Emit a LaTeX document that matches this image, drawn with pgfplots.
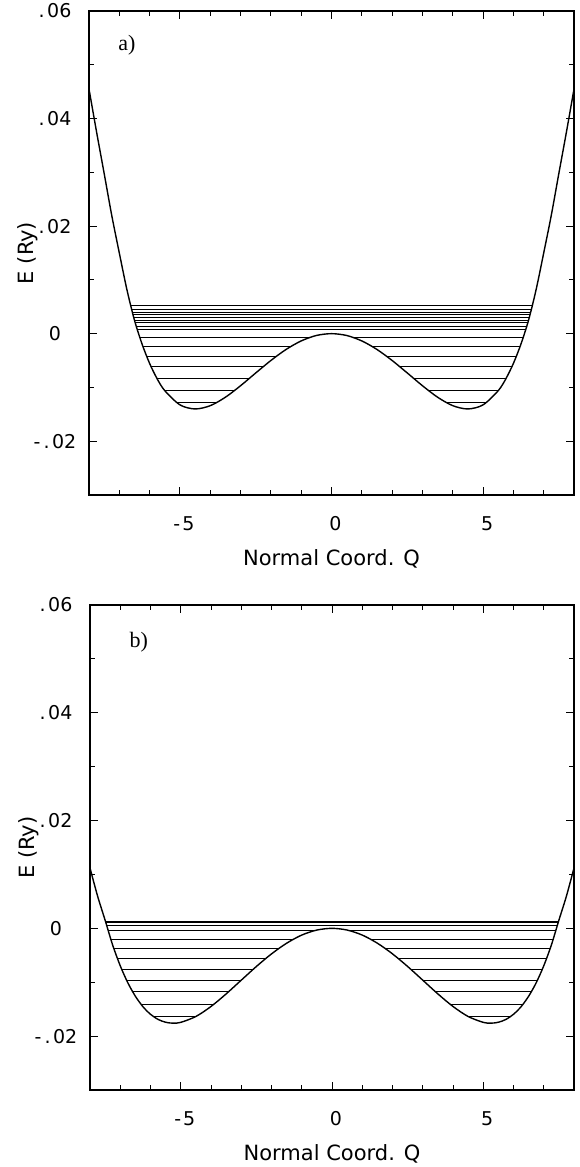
\documentclass[border=0pt]{standalone}
\usepackage{fontspec}
\setmainfont{DejaVu Sans}
\newfontfamily\serif{Liberation Serif}
\newfontfamily\tickf{DejaVu Sans}
\usepackage{pgfplots}
\pgfplotsset{compat=1.18}
\pgfplotsset{
 myax/.style={
  scale only axis, xmin=-8, xmax=8, ymin=-0.03, ymax=0.06,
  xtick={-5,0,5}, xticklabels={-\kern2pt5,0,5},
  minor xtick={-7,-6,-4,-3,-2,-1,1,2,3,4,6,7},
  ytick={-0.02,0,0.02,0.04,0.06},
  yticklabels={-\kern3pt.\kern2.5pt02,0,.\kern2.5pt02,.\kern2.5pt04,.\kern2.5pt06},
  minor ytick={-0.01,0.01,0.03,0.05},
  scaled y ticks=false, scaled x ticks=false,
  tick align=inside, major tick length=8pt, minor tick length=5pt,
  tick style={black, line width=1.0pt},
  axis line style={line width=1.4pt},
  xticklabel style={font=\tickf\fontsize{19}{21}\selectfont, anchor=base, yshift=-36pt, xshift=4pt},
  yticklabel style={font=\tickf\fontsize{19}{21}\selectfont, anchor=center, xshift=-34pt},
  xlabel={Normal Coord. Q}, ylabel={E (Ry)},
  label style={font=\fontsize{21}{24}\selectfont},
  x label style={at={(axis description cs:0.5,-0.132)}, anchor=center},
  y label style={at={(axis description cs:-0.126,0.5)}, anchor=center},
 },
 cur/.style={black, line width=1.4pt, smooth, no markers},
 lev/.style={black, line width=1.0pt, no markers},
}
\begin{document}
\begin{tikzpicture}
\useasboundingbox (0,0) rectangle (580pt,1167pt);
% ---------- panel a ----------
\begin{axis}[myax, at={(89pt,672pt)}, anchor=south west, width=485pt, height=484pt]
\addplot[cur] coordinates {
(-8,0.0455) (-7.75,0.0375) (-7.5,0.0298) (-7.25,0.0220) (-7,0.0150) (-6.75,0.0082)
(-6.5,0.0025) (-6.25,-0.00193) (-6,-0.00554) (-5.75,-0.00841) (-5.5,-0.0106) (-5,-0.01324)
(-4.5,-0.0140) (-4,-0.01339) (-3.5,-0.01182) (-3,-0.00968) (-2.5,-0.00731) (-2,-0.00499)
(-1.5,-0.00294) (-1,-0.00135) (-0.5,-0.00034) (0,0)
(0.5,-0.00034) (1,-0.00135) (1.5,-0.00294) (2,-0.00499) (2.5,-0.00731) (3,-0.00968)
(3.5,-0.01182) (4,-0.01339) (4.5,-0.0140) (5,-0.01324) (5.5,-0.0106) (5.75,-0.00841)
(6,-0.00554) (6.25,-0.00193) (6.5,0.0025) (6.75,0.0082) (7,0.0150) (7.25,0.0220)
(7.5,0.0298) (7.75,0.0375) (8,0.0455)};
% levels above barrier
\addplot[lev] coordinates {(-6.631,0.0052) (6.631,0.0052)};
\addplot[lev] coordinates {(-6.598,0.0045) (6.598,0.0045)};
\addplot[lev] coordinates {(-6.574,0.0040) (6.574,0.0040)};
\addplot[lev] coordinates {(-6.549,0.0035) (6.549,0.0035)};
\addplot[lev] coordinates {(-6.524,0.0030) (6.524,0.0030)};
\addplot[lev] coordinates {(-6.499,0.0025) (6.499,0.0025)};
\addplot[lev] coordinates {(-6.473,0.0020) (6.473,0.0020)};
\addplot[lev] coordinates {(-6.436,0.0013) (6.436,0.0013)};
\addplot[lev] coordinates {(-6.403,0.0007) (6.403,0.0007)};
% levels below barrier
\addplot[lev] coordinates {(-6.324,-0.0007) (-0.716,-0.0007)};
\addplot[lev] coordinates {(0.716,-0.0007) (6.324,-0.0007)};
\addplot[lev] coordinates {(-6.220,-0.0024) (-1.348,-0.0024)};
\addplot[lev] coordinates {(1.348,-0.0024) (6.220,-0.0024)};
\addplot[lev] coordinates {(-6.099,-0.0042) (-1.819,-0.0042)};
\addplot[lev] coordinates {(1.819,-0.0042) (6.099,-0.0042)};
\addplot[lev] coordinates {(-5.955,-0.0061) (-2.245,-0.0061)};
\addplot[lev] coordinates {(2.245,-0.0061) (5.955,-0.0061)};
\addplot[lev] coordinates {(-5.759,-0.0083) (-2.707,-0.0083)};
\addplot[lev] coordinates {(2.707,-0.0083) (5.759,-0.0083)};
\addplot[lev] coordinates {(-5.511,-0.0105) (-3.182,-0.0105)};
\addplot[lev] coordinates {(3.182,-0.0105) (5.511,-0.0105)};
\addplot[lev] coordinates {(-5.117,-0.0128) (-3.784,-0.0128)};
\addplot[lev] coordinates {(3.784,-0.0128) (5.117,-0.0128)};
\node[font=\serif\fontsize{22}{24}\selectfont] at (axis description cs:0.078,0.930) {a)};
\end{axis}
% ---------- panel b ----------
\begin{axis}[myax, at={(90pt,77pt)}, anchor=south west, width=484pt, height=485pt,
  xticklabel style={yshift=0.5pt}]
\addplot[cur] coordinates {
(-8,0.0112) (-7.75,0.0060) (-7.5,0.0015) (-7.25,-0.00312) (-7,-0.00695) (-6.75,-0.01010)
(-6.5,-0.01260) (-6.25,-0.01454) (-6,-0.01595) (-5.75,-0.01690) (-5.5,-0.01743) (-5.25,-0.0176)
(-5,-0.01745) (-4.5,-0.01636) (-4,-0.01450) (-3.5,-0.01217) (-3,-0.00962) (-2.5,-0.00708)
(-2,-0.00474) (-1.5,-0.00276) (-1,-0.00125) (-0.5,-0.00032) (0,0)
(0.5,-0.00032) (1,-0.00125) (1.5,-0.00276) (2,-0.00474) (2.5,-0.00708) (3,-0.00962)
(3.5,-0.01217) (4,-0.01450) (4.5,-0.01636) (5,-0.01745) (5.25,-0.0176) (5.5,-0.01743)
(5.75,-0.01690) (6,-0.01595) (6.25,-0.01454) (6.5,-0.01260) (6.75,-0.01010) (7,-0.00695)
(7.25,-0.00312) (7.5,0.0015) (7.75,0.0060) (8,0.0112)};
\addplot[lev] coordinates {(-7.492,0.0013) (7.492,0.0013)};
\addplot[lev] coordinates {(-7.476,0.0010) (7.476,0.0010)};
\addplot[lev] coordinates {(-7.456,0.0006) (7.456,0.0006)};
\addplot[lev] coordinates {(-7.403,-0.0004) (-0.561,-0.0004)};
\addplot[lev] coordinates {(0.561,-0.0004) (7.403,-0.0004)};
\addplot[lev] coordinates {(-7.315,-0.0020) (-1.270,-0.0020)};
\addplot[lev] coordinates {(1.270,-0.0020) (7.315,-0.0020)};
\addplot[lev] coordinates {(-7.215,-0.0037) (-1.752,-0.0037)};
\addplot[lev] coordinates {(1.752,-0.0037) (7.215,-0.0037)};
\addplot[lev] coordinates {(-7.094,-0.0056) (-2.192,-0.0056)};
\addplot[lev] coordinates {(2.192,-0.0056) (7.094,-0.0056)};
\addplot[lev] coordinates {(-6.953,-0.0076) (-2.605,-0.0076)};
\addplot[lev] coordinates {(2.605,-0.0076) (6.953,-0.0076)};
\addplot[lev] coordinates {(-6.784,-0.0097) (-3.016,-0.0097)};
\addplot[lev] coordinates {(3.016,-0.0097) (6.784,-0.0097)};
\addplot[lev] coordinates {(-6.587,-0.0118) (-3.426,-0.0118)};
\addplot[lev] coordinates {(3.426,-0.0118) (6.587,-0.0118)};
\addplot[lev] coordinates {(-6.313,-0.0141) (-3.908,-0.0141)};
\addplot[lev] coordinates {(3.908,-0.0141) (6.313,-0.0141)};
\addplot[lev] coordinates {(-5.896,-0.0164) (-4.513,-0.0164)};
\addplot[lev] coordinates {(4.513,-0.0164) (5.896,-0.0164)};
\node[font=\serif\fontsize{22}{24}\selectfont] at (axis description cs:0.101,0.924) {b)};
\end{axis}
\end{tikzpicture}
\end{document}
